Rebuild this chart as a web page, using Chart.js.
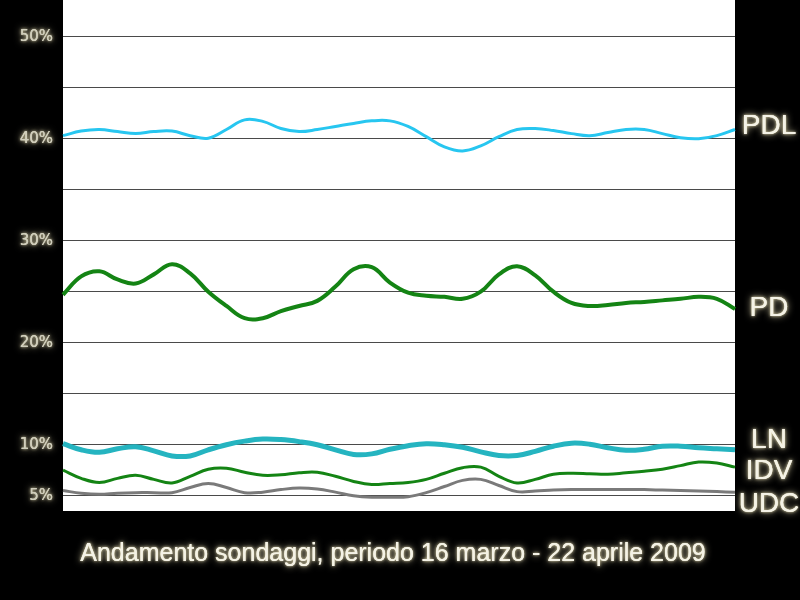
<!DOCTYPE html>
<html>
<head>
<meta charset="utf-8">
<script src="https://cdn.jsdelivr.net/npm/chart.js@4"></script>
<style>
  html, body { margin: 0; padding: 0; background: #000; }
  #wrap { width: 800px; height: 600px; }
</style>
</head>
<body>
<div id="wrap"><canvas id="myChart"></canvas></div>
<script>
// giorni dei sondaggi, 16 marzo - 22 aprile 2009
const days = ['16/3','17/3','18/3','19/3','20/3','21/3','22/3','23/3','24/3','25/3','26/3','27/3','28/3','29/3','30/3','31/3',
  '1/4','2/4','3/4','4/4','5/4','6/4','7/4','8/4','9/4','10/4','11/4','12/4','13/4','14/4','15/4','16/4','17/4','18/4','19/4','20/4','21/4','22/4'];

const pdl = [40.3,40.75,40.9,40.7,40.5,40.7,40.75,40.3,40.05,40.9,41.85,41.7,41.0,40.7,40.9,41.2,41.5,41.75,41.75,41.2,
  40.2,39.2,38.8,39.3,40.2,40.9,41.0,40.8,40.5,40.3,40.6,40.9,40.9,40.5,40.1,40.0,40.3,40.9];
const pd = [24.7,26.5,27.0,26.2,25.8,26.7,27.7,26.8,25.0,23.6,22.4,22.4,23.1,23.6,24.1,25.5,27.2,27.4,25.9,24.9,
  24.6,24.5,24.3,25.0,26.7,27.5,26.6,25.0,23.9,23.6,23.7,23.9,24.0,24.15,24.3,24.5,24.3,23.3];
const ln = [10.1,9.5,9.25,9.6,9.8,9.4,8.9,8.9,9.5,10.0,10.35,10.55,10.5,10.3,10.0,9.5,9.05,9.1,9.55,9.9,
  10.1,10.0,9.75,9.3,8.95,8.95,9.35,9.85,10.15,10.05,9.7,9.45,9.55,9.85,9.85,9.7,9.6,9.5];
const idv = [7.5,6.7,6.3,6.7,7.0,6.6,6.25,6.9,7.6,7.7,7.3,7.0,7.05,7.25,7.3,6.9,6.4,6.1,6.2,6.3,
  6.6,7.2,7.75,7.8,6.9,6.25,6.6,7.1,7.2,7.15,7.1,7.25,7.4,7.6,7.95,8.3,8.2,7.8];
const udc = [5.5,5.25,5.15,5.25,5.3,5.3,5.3,5.8,6.2,5.8,5.3,5.35,5.6,5.75,5.65,5.35,5.0,4.85,4.85,4.9,
  5.3,5.9,6.5,6.6,6.0,5.4,5.45,5.55,5.6,5.6,5.6,5.6,5.6,5.55,5.5,5.45,5.4,5.35];

const partyNames = ['PDL','PD','LN','IDV','UDC'];
const tickValues = [50,40,30,20,10,5];
const gridValues = [5,10,15,20,25,30,35,40,45,50];
const title = 'Andamento sondaggi, periodo 16 marzo - 22 aprile 2009';

function glowText(ctx, text, x, y, font, align, color) {
  ctx.save();
  ctx.font = font;
  ctx.textAlign = align;
  ctx.textBaseline = 'middle';
  ctx.shadowColor = 'rgba(255,245,200,0.9)';
  ctx.shadowBlur = 7;
  ctx.fillStyle = color || '#f4f2e6';
  ctx.fillText(text, x, y);
  ctx.shadowBlur = 3;
  ctx.fillText(text, x, y);
  ctx.restore();
}

const decor = {
  id: 'decor',
  beforeDraw(chart) {
    const {ctx, chartArea} = chart;
    ctx.save();
    ctx.fillStyle = '#000';
    ctx.fillRect(0, 0, chart.width, chart.height);
    ctx.fillStyle = '#fff';
    ctx.fillRect(chartArea.left, chartArea.top, chartArea.right - chartArea.left, chartArea.bottom - chartArea.top);
    ctx.restore();
  },
  afterDraw(chart) {
    const {ctx, chartArea, scales} = chart;
    const y = scales.y;
    tickValues.forEach(v => {
      glowText(ctx, v + '%', 53, y.getPixelForValue(v), '15px "DejaVu Sans"', 'right', '#cfcdbc');
    });
    // etichette dei partiti a destra
    const labelAt = [41.2, 23.4, 10.4, 7.35, 4.2];
    partyNames.forEach((n, i) => {
      glowText(ctx, n, 769, y.getPixelForValue(labelAt[i]), '28px "Liberation Sans"', 'center');
    });
    glowText(ctx, title, 393, 554, '25px "Liberation Sans"', 'center');
  }
};

const ctx = document.getElementById('myChart').getContext('2d');
const myChart = new Chart(ctx, {
  type: 'line',
  data: {
    labels: days,
    datasets: [
      { label: 'UDC', data: udc, borderColor: '#7a7a7a', borderWidth: 3 },
      { label: 'IDV', data: idv, borderColor: '#148414', borderWidth: 3 },
      { label: 'LN', data: ln, borderColor: '#25b4c0', borderWidth: 5 },
      { label: 'PD', data: pd, borderColor: '#148414', borderWidth: 4 },
      { label: 'PDL', data: pdl, borderColor: '#27c6f0', borderWidth: 3 }
    ]
  },
  options: {
    responsive: true,
    maintainAspectRatio: false,
    animation: false,
    layout: { padding: { left: 63, right: 65, top: 0, bottom: 89 } },
    elements: { point: { radius: 0 }, line: { tension: 0.4, fill: false } },
    plugins: { legend: { display: false }, tooltip: { enabled: false }, title: { display: false } },
    scales: {
      x: { display: false, offset: false },
      y: {
        min: 3.5,
        max: 53.6,
        afterBuildTicks: axis => { axis.ticks = gridValues.map(v => ({ value: v })); },
        ticks: { display: false },
        border: { display: false },
        grid: { color: '#4a4a4a', lineWidth: 1, drawTicks: false }
      }
    }
  },
  plugins: [decor]
});
</script>
</body>
</html>
